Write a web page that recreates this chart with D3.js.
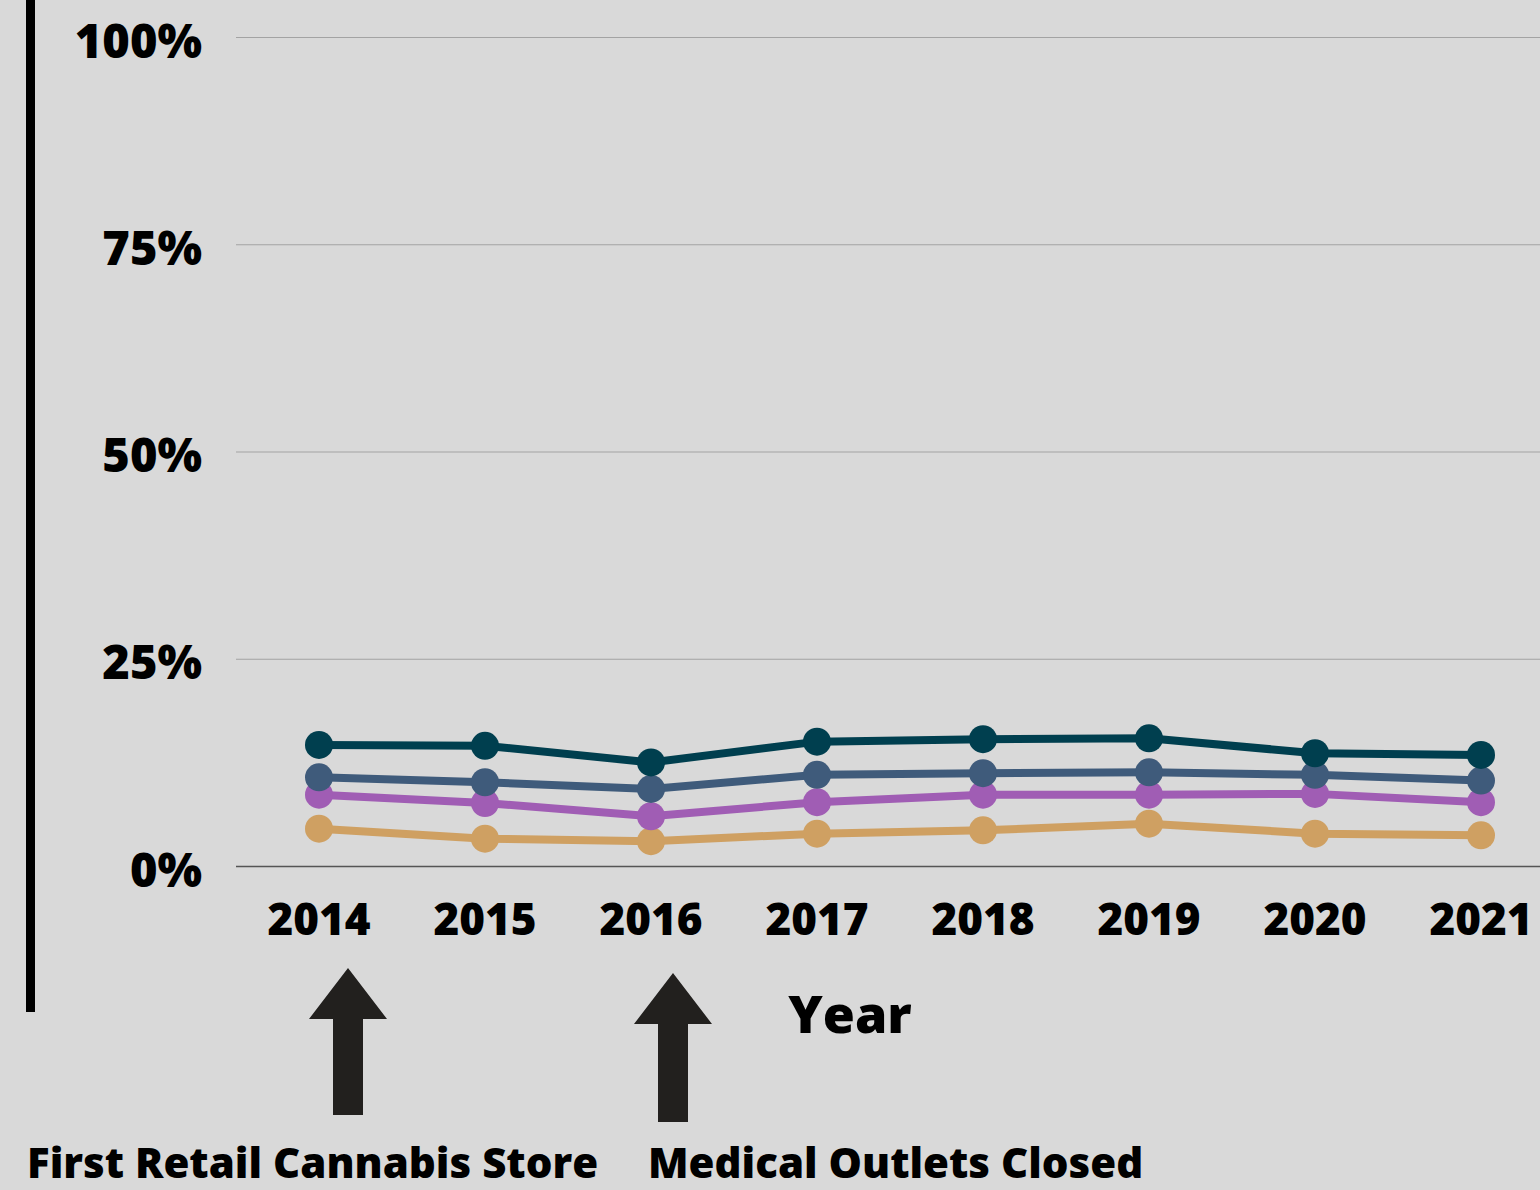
<!DOCTYPE html>
<html>
<head>
<meta charset="utf-8">
<script src="https://cdn.jsdelivr.net/npm/d3@7"></script>
<style>
  html, body { margin: 0; padding: 0; background: #d9d9d9; }
  svg { display: block; font-family: "Open Sans", "DejaVu Sans", sans-serif; font-weight: 800; }
</style>
</head>
<body>
<div id="chart"></div>
<script>
// data
var years = ["2014", "2015", "2016", "2017", "2018", "2019", "2020", "2021"];
var seriesTeal = [14.6, 14.5, 12.5, 15.0, 15.3, 15.4, 13.6, 13.4];
var seriesSlate = [10.7, 10.1, 9.3, 11.0, 11.2, 11.3, 11.0, 10.3];
var seriesPurple = [8.6, 7.6, 6.0, 7.7, 8.6, 8.6, 8.7, 7.7];
var seriesTan = [4.5, 3.3, 3.0, 3.9, 4.3, 5.1, 3.9, 3.7];
var yTicks = [0, 25, 50, 75, 100];
var notes = [
  { year: "2014", label: "First Retail Cannabis Store" },
  { year: "2016", label: "Medical Outlets Closed" }
];

var series = [
  { values: seriesTan, color: "#cfa062" },
  { values: seriesPurple, color: "#a05db4" },
  { values: seriesSlate, color: "#3f5b7b" },
  { values: seriesTeal, color: "#003f4f" }
];

var width = 1540, height = 1190;

var svg = d3.select("#chart").append("svg")
  .attr("width", width)
  .attr("height", height);

svg.append("rect").attr("width", width).attr("height", height).attr("fill", "#d9d9d9");

var x = d3.scalePoint().domain(years).range([319, 1481]);
var y = d3.scaleLinear().domain([0, 100]).range([866, 37]);

// left black bar
svg.append("rect")
  .attr("x", 26).attr("y", 0)
  .attr("width", 9).attr("height", 1012)
  .attr("fill", "#000");

// gridlines
svg.append("g").selectAll("line")
  .data(yTicks)
  .enter().append("line")
  .attr("x1", 236).attr("x2", width)
  .attr("y1", function (d) { return y(d) + 0.5; })
  .attr("y2", function (d) { return y(d) + 0.5; })
  .attr("stroke", function (d) { return d === 0 ? "#555" : "#a3a3a3"; })
  .attr("stroke-width", function (d) { return d === 0 ? 1.5 : 1; });

// y labels
svg.append("g").selectAll("text")
  .data(yTicks)
  .enter().append("text")
  .attr("x", 202)
  .attr("y", function (d) { return y(d) + 8; })
  .attr("text-anchor", "end")
  .attr("dominant-baseline", "middle")
  .attr("font-size", 47)
  .attr("fill", "#000")
  .text(function (d) { return d + "%"; });

// x labels
svg.append("g").selectAll("text")
  .data(years)
  .enter().append("text")
  .attr("x", function (d) { return x(d); })
  .attr("y", 935)
  .attr("text-anchor", "middle")
  .attr("font-size", 44)
  .attr("fill", "#000")
  .text(function (d) { return d; });

svg.append("text")
  .attr("x", 850).attr("y", 1033)
  .attr("text-anchor", "middle")
  .attr("font-size", 52)
  .attr("fill", "#000")
  .text("Year");

// lines + dots
var line = d3.line()
  .x(function (d, i) { return x(years[i]); })
  .y(function (d) { return y(d); });

var g = svg.append("g");
series.forEach(function (s) {
  g.append("path")
    .datum(s.values)
    .attr("d", line)
    .attr("fill", "none")
    .attr("stroke", s.color)
    .attr("stroke-width", 8);
  g.selectAll(null)
    .data(s.values)
    .enter().append("circle")
    .attr("cx", function (d, i) { return x(years[i]); })
    .attr("cy", function (d) { return y(d); })
    .attr("r", 14)
    .attr("fill", s.color);
});

// annotation arrows
var arrowOffsets = [29, 22];
var arrowTops = [968, 973];
var arrowBottoms = [1115, 1122];
var labelX = [27, 648];
notes.forEach(function (n, i) {
  var cx = x(n.year) + arrowOffsets[i];
  var top = arrowTops[i], bot = arrowBottoms[i];
  var headW = 39, shaftW = 15, headH = 51;
  svg.append("path")
    .attr("d", "M" + cx + "," + top +
      "L" + (cx + headW) + "," + (top + headH) +
      "L" + (cx + shaftW) + "," + (top + headH) +
      "L" + (cx + shaftW) + "," + bot +
      "L" + (cx - shaftW) + "," + bot +
      "L" + (cx - shaftW) + "," + (top + headH) +
      "L" + (cx - headW) + "," + (top + headH) + "Z")
    .attr("fill", "#22201e");
  svg.append("text")
    .attr("x", labelX[i]).attr("y", 1178)
    .attr("font-size", 42)
    .attr("fill", "#000")
    .text(n.label);
});
</script>
</body>
</html>
